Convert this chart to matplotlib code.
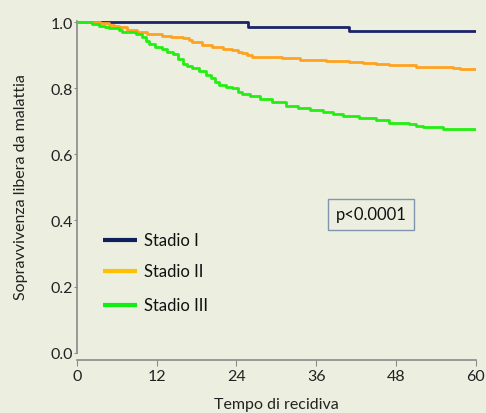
import matplotlib
matplotlib.use("Agg")
import matplotlib.pyplot as plt

# Data (months, survival)
t1 = [0, 25.8, 41.0, 60]
s1 = [1.0, 0.985, 0.974, 0.974]

t2 = [0, 3.5, 4.8, 5.6, 6.3, 7.5, 9.0, 10.5, 12.8, 14.2, 15.9, 16.8, 17.4, 18.8, 20.4, 22.0, 23.4, 24.3, 24.9,
      25.6, 26.4, 30.9, 33.5, 37.5, 41.0, 43.0, 45.0, 47.0, 51.0, 56.6, 57.6, 60]
s2 = [1.0, 0.997, 0.993, 0.99, 0.985, 0.978, 0.97, 0.965, 0.958, 0.955, 0.952, 0.947, 0.94, 0.932, 0.925, 0.92,
      0.915, 0.911, 0.908, 0.902, 0.896, 0.893, 0.886, 0.883, 0.88, 0.878, 0.875, 0.87, 0.866, 0.861, 0.858, 0.858]

t3 = [0, 2.3, 3.3, 4.2, 4.8, 6.3, 6.8, 8.9, 9.8, 10.4, 10.9, 11.8, 12.8, 13.6, 14.4, 15.2, 15.9, 16.6, 17.4, 18.4,
      19.4, 20.2, 20.8, 21.4, 22.4, 23.4, 24.2, 24.9, 26.0, 27.5, 29.4, 31.4, 33.2, 35.0, 37.0, 38.5, 40.0, 42.5,
      45.0, 47.0, 50.0, 51.0, 52.0, 55.0, 60]
s3 = [1.0, 0.995, 0.99, 0.986, 0.982, 0.977, 0.97, 0.964, 0.955, 0.945, 0.933, 0.925, 0.918, 0.911, 0.903, 0.89,
      0.873, 0.868, 0.863, 0.852, 0.84, 0.83, 0.82, 0.81, 0.805, 0.8, 0.79, 0.782, 0.777, 0.767, 0.758, 0.746,
      0.74, 0.734, 0.727, 0.722, 0.716, 0.71, 0.704, 0.695, 0.692, 0.687, 0.682, 0.676, 0.676]

labels = ["Stadio I", "Stadio II", "Stadio III"]
colors = ["#1B2468", "#FFA21F", "#22EE11"]
legend_colors = ["#0E1F5A", "#FFC000", "#11EE11"]
xticks = [0, 12, 24, 36, 48, 60]
yticks = [0.0, 0.2, 0.4, 0.6, 0.8, 1.0]

bg = "#ECEFE0"
plt.rcParams['font.family'] = ['Lato', 'DejaVu Sans']

fig = plt.figure(figsize=(4.86, 4.14), dpi=100, facecolor=bg)
ax = fig.add_axes([0.158, 0.146, 0.821, 0.80])
ax.set_facecolor(bg)

for t, s, c in zip([t1, t2, t3], [s1, s2, s3], colors):
    ax.step(t, s, where="post", color=c, lw=2, zorder=3)

ax.set_xlim(0, 60)
ax.set_ylim(0, 1.003)
ax.set_xticks(xticks)
ax.set_xticklabels([str(x) for x in xticks])
ax.set_yticks(yticks)
ax.set_yticklabels([f"{y:.1f}" for y in yticks])

for sp in ["top", "right"]:
    ax.spines[sp].set_visible(False)
for sp in ["left", "bottom"]:
    ax.spines[sp].set_color("#8A8A8A")
    ax.spines[sp].set_linewidth(1.2)
ax.spines["bottom"].set_position(("outward", 5))
ax.spines["bottom"].set_bounds(0, 60)

ax.tick_params(axis="both", colors="#8A8A8A", labelcolor="#222222", labelsize=11.5)
ax.tick_params(axis="y", length=2, pad=1)
ax.tick_params(axis="x", length=4, pad=3)

fig.text(0.569, 0.022, "Tempo di recidiva", fontsize=11.5, color="#222222", ha="center", va="center")
fig.text(0.043, 0.548, "Sopravvivenza libera da malattia", fontsize=11.5, color="#222222",
         ha="center", va="center", rotation=90)

# legend drawn manually
leg_y = [0.34, 0.245, 0.145]
for y, c, lab in zip(leg_y, legend_colors, labels):
    ax.plot([0.065, 0.15], [y, y], transform=ax.transAxes, color=c, lw=3, solid_capstyle="butt", clip_on=False)
    ax.text(0.168, y, lab, transform=ax.transAxes, fontsize=12, color="#111111", va="center", ha="left")

ax.text(0.737, 0.418, "p<0.0001", transform=ax.transAxes, fontsize=12, color="#111111",
        ha="center", va="center",
        bbox=dict(boxstyle="square,pad=0.45", facecolor=bg, edgecolor="#8294B0", linewidth=1))

fig.savefig("out.png", dpi=100, facecolor=bg)
